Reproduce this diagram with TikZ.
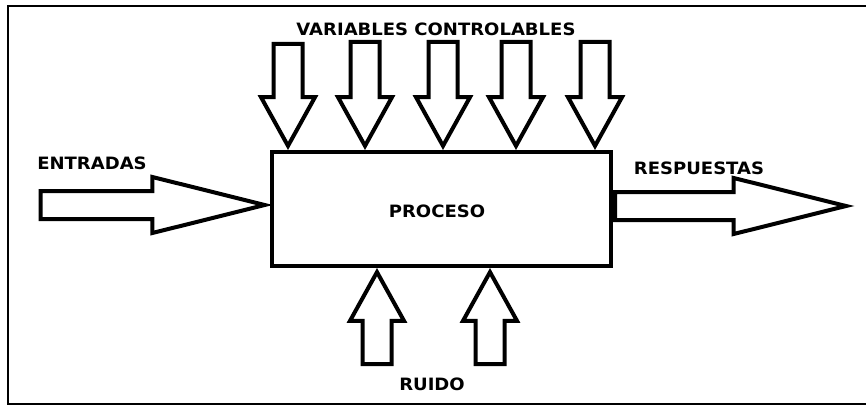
\documentclass[tikz,border=0pt]{standalone}
\usepackage{fontspec}
\setmainfont{DejaVu Sans}
\usetikzlibrary{shapes.arrows}
\begin{document}
\begin{tikzpicture}
        [x=1pt, y=-1pt,
         frame_style/.style={draw=black, line width=2.2pt},
         box_style/.style={rectangle, draw=black, line width=4pt, fill=white,
                           minimum width=339pt, minimum height=114pt, inner sep=0pt},
         text_style/.style={font=\bfseries\fontsize{17}{19}\selectfont, xscale=1.06, transform shape},
         varrow_style/.style={single arrow, draw=black, line width=4pt, fill=white,
                              inner xsep=12.5pt, inner ysep=0pt, minimum width=0pt,
                              single arrow head extend=12.5pt, single arrow tip angle=58},
         harrow_style/.style={single arrow, draw=black, line width=4pt, fill=white,
                              inner ysep=12pt, inner xsep=0pt, minimum width=0pt,
                              single arrow head extend=14pt, single arrow tip angle=28}]
            \useasboundingbox (0,0) rectangle (866,406);
            \draw[frame_style] (866,6) -- (8,6) -- (8,404) -- (866,404);
            \node[box_style] (proceso) at (441.5,209) {};
            \node[text_style] (t_proceso) at (437,211) {PROCESO};
            % variables controlables
            \node[varrow_style, shape border rotate=270, minimum height=102pt, anchor=tip] (vc1) at (288,150) {};
            \node[varrow_style, shape border rotate=270, minimum height=104pt, anchor=tip] (vc2) at (365,150) {};
            \node[varrow_style, shape border rotate=270, minimum height=104pt, anchor=tip] (vc3) at (443,150) {};
            \node[varrow_style, shape border rotate=270, minimum height=104pt, anchor=tip] (vc4) at (516,150) {};
            \node[varrow_style, shape border rotate=270, minimum height=104pt, anchor=tip] (vc5) at (595,150) {};
            \node[text_style] (t_vc) at (436,29) {VARIABLES CONTROLABLES};
            % ruido
            \node[varrow_style, shape border rotate=90, minimum height=92pt, anchor=tip] (r1) at (377,268) {};
            \node[varrow_style, shape border rotate=90, minimum height=92pt, anchor=tip] (r2) at (490,268) {};
            \node[text_style] (t_ruido) at (432,384) {RUIDO};
            % entradas y respuestas
            \node[harrow_style, minimum height=224pt, anchor=tip] (entrada) at (273,205) {};
            \node[text_style] (t_entradas) at (92,163) {ENTRADAS};
            \node[harrow_style, minimum height=231pt, anchor=tail] (respuesta) at (613,206) {};
            \node[text_style] (t_respuestas) at (699,168) {RESPUESTAS};
        \end{tikzpicture}
\end{document}
